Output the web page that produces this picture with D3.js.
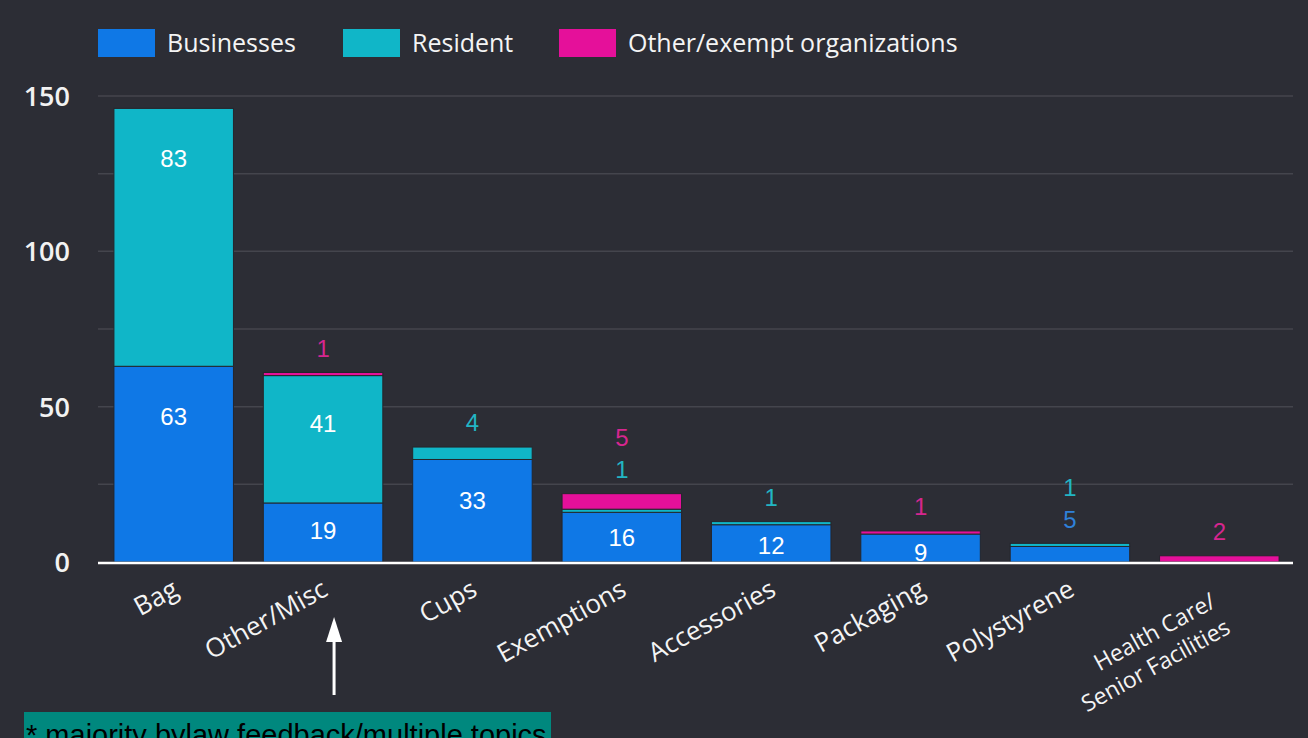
<!DOCTYPE html>
<html>
<head>
<meta charset="utf-8">
<script src="https://cdn.jsdelivr.net/npm/d3@7"></script>
<style>
  html, body { margin: 0; padding: 0; background: #2c2d35; }
  svg { display: block; }
</style>
</head>
<body>
<svg id="chart" width="1308" height="738"></svg>
<script>
// ---- data ----
const categories = ["Bag", "Other/Misc", "Cups", "Exemptions", "Accessories", "Packaging", "Polystyrene", "Health Care/\nSenior Facilities"];
const seriesNames = ["Businesses", "Resident", "Other/exempt organizations"];
const businesses = [63, 19, 33, 16, 12, 9, 5, 0];
const resident   = [83, 41, 4, 1, 1, 0, 1, 0];
const otherOrgs  = [0, 1, 0, 5, 0, 1, 0, 2];
const yTickLabels = [0, 50, 100, 150];
const yGridTicks = [0, 25, 50, 75, 100, 125, 150];

const barColors = ["#0f78e6", "#10b6c8", "#e5109a"];
const labelColors = ["#2f80d8", "#22b5c4", "#d6268f"];

const svg = d3.select("#chart");
const W = 1308, H = 738;
svg.append("rect").attr("width", W).attr("height", H).attr("fill", "#2c2d35");

const x = d3.scaleBand().domain(categories).range([99, 1294]).paddingInner(0.2).paddingOuter(0.1);
const y = d3.scaleLinear().domain([0, 150]).range([562, 96]);

// gridlines
svg.append("g").selectAll("line").data(yGridTicks.filter(d => d > 0)).join("line")
  .attr("x1", 98).attr("x2", 1293)
  .attr("y1", d => y(d)).attr("y2", d => y(d))
  .attr("stroke", "#44454d").attr("stroke-width", 1.5);

// y axis labels
const yAxis = d3.axisLeft(y).tickValues(yTickLabels).tickSize(0).tickPadding(0);
const gy = svg.append("g").attr("transform", "translate(70,0)").call(yAxis);
gy.select(".domain").remove();
gy.selectAll("text")
  .attr("fill", "#f2f2f2")
  .attr("font-family", "'Open Sans', sans-serif")
  .attr("font-size", 27)
  .attr("font-weight", 600)
  .attr("dy", "0.35em");

// stacked data
const rows = categories.map((c, i) => ({ cat: c, v: [businesses[i], resident[i], otherOrgs[i]] }));
const stackData = rows.map(r => ({ cat: r.cat, s0: r.v[0], s1: r.v[1], s2: r.v[2] }));
const stack = d3.stack().keys(["s0", "s1", "s2"]);
const layers = stack(stackData);

const gBars = svg.append("g");
layers.forEach((layer, li) => {
  gBars.append("g").selectAll("rect").data(layer.filter(d => d[1] - d[0] > 0)).join("rect")
    .attr("x", d => x(d.data.cat))
    .attr("width", x.bandwidth())
    .attr("y", d => y(d[1]))
    .attr("height", d => y(d[0]) - y(d[1]))
    .attr("fill", barColors[li])
    .attr("stroke", "#25262c")
    .attr("stroke-width", 1);
});

// baseline
svg.append("line").attr("x1", 98).attr("x2", 1293).attr("y1", y(0) + 1).attr("y2", y(0) + 1)
  .attr("stroke", "#ffffff").attr("stroke-width", 2.5);

// value labels
const gLab = svg.append("g").attr("font-family", "Arial, 'Liberation Sans', sans-serif").attr("font-size", 24).attr("text-anchor", "middle");
rows.forEach((r, i) => {
  const cx = x(r.cat) + x.bandwidth() / 2;
  const total = r.v[0] + r.v[1] + r.v[2];
  const topY = y(total);
  let base = 0, outside = 0;
  r.v.forEach((v, si) => {
    if (v <= 0) { base += v; return; }
    const segTop = y(base + v), segBot = y(base);
    const h = segBot - segTop;
    if (v >= 6) {
      const ly = segTop + Math.min(50, h * 0.3 + 10);
      gLab.append("text").attr("x", cx).attr("y", ly).attr("dy", "0.35em").attr("fill", "#ffffff").text(v);
    } else {
      const ly = topY - 24 - outside * 32;
      gLab.append("text").attr("x", cx).attr("y", ly).attr("dy", "0.35em").attr("fill", labelColors[si]).text(v);
      outside++;
    }
    base += v;
  });
});

// category labels
const gCat = svg.append("g").attr("font-family", "'Open Sans', sans-serif").attr("fill", "#f4f4f4");
categories.forEach(c => {
  const cx = x(c) + x.bandwidth() / 2;
  const lines = c.split("\n");
  const multi = lines.length > 1;
  const t = gCat.append("text")
    .attr("transform", `translate(${cx + (multi ? -12 : -5)},${multi ? 588 : 574}) rotate(-29)`)
    .attr("text-anchor", "end")
    .attr("font-size", multi ? 23 : 26);
  lines.forEach((ln, li) => {
    t.append("tspan").attr("x", 0).attr("dy", li === 0 ? "0.9em" : "1.3em").text(ln);
  });
});

// legend
const legend = svg.append("g").attr("font-family", "'Open Sans', sans-serif").attr("font-size", 25).attr("fill", "#f4f4f4");
const legendX = [98, 343, 559];
seriesNames.forEach((n, i) => {
  legend.append("rect").attr("x", legendX[i]).attr("y", 29).attr("width", 57).attr("height", 28).attr("fill", barColors[i]);
  legend.append("text").attr("x", legendX[i] + 69).attr("y", 43).attr("dy", "0.35em").text(n);
});

// arrow annotation
const ax = x("Other/Misc") + x.bandwidth() / 2 + 11;
svg.append("line").attr("x1", ax).attr("x2", ax).attr("y1", 695).attr("y2", 638).attr("stroke", "#ffffff").attr("stroke-width", 3);
svg.append("path").attr("d", `M${ax - 8},${642} L${ax},${617} L${ax + 8},${642} Z`).attr("fill", "#ffffff");

// footnote
svg.append("rect").attr("x", 24).attr("y", 712).attr("width", 527).attr("height", 30).attr("fill", "#00887e");
svg.append("text").attr("x", 26).attr("y", 745)
  .attr("font-family", "Arial, 'Liberation Sans', sans-serif").attr("font-size", 29).attr("fill", "#000000")
  .text("* majority bylaw feedback/multiple topics");
</script>
</body>
</html>
